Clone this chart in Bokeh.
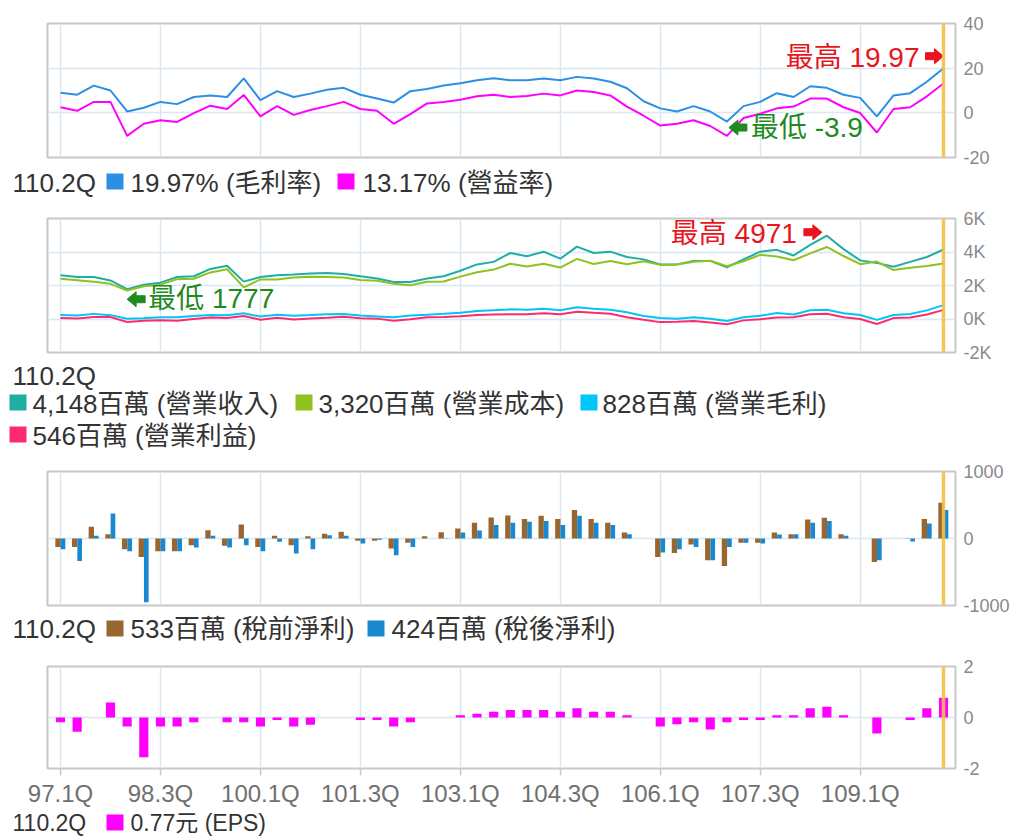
from bokeh.plotting import figure
from bokeh.models import Range1d, FixedTicker, Span
from bokeh.layouts import column
from bokeh.embed import file_html
from bokeh.resources import INLINE
from bokeh.core.properties import value
from bokeh.transform import dodge

# ---------------- data ----------------
quarters = ["97.1Q", "97.2Q", "97.3Q", "97.4Q", "98.1Q", "98.2Q", "98.3Q", "98.4Q",
            "99.1Q", "99.2Q", "99.3Q", "99.4Q", "100.1Q", "100.2Q", "100.3Q", "100.4Q",
            "101.1Q", "101.2Q", "101.3Q", "101.4Q", "102.1Q", "102.2Q", "102.3Q", "102.4Q",
            "103.1Q", "103.2Q", "103.3Q", "103.4Q", "104.1Q", "104.2Q", "104.3Q", "104.4Q",
            "105.1Q", "105.2Q", "105.3Q", "105.4Q", "106.1Q", "106.2Q", "106.3Q", "106.4Q",
            "107.1Q", "107.2Q", "107.3Q", "107.4Q", "108.1Q", "108.2Q", "108.3Q", "108.4Q",
            "109.1Q", "109.2Q", "109.3Q", "109.4Q", "110.1Q", "110.2Q"]

tick_labels = ["97.1Q", "98.3Q", "100.1Q", "101.3Q", "103.1Q", "104.3Q", "106.1Q", "107.3Q", "109.1Q"]

gross_margin = [9.0, 8.1, 12.2, 10.0, 0.6, 2.3, 4.9, 3.9, 7.1, 7.8, 7.1, 15.4, 5.7, 9.7, 7.1, 8.6,
                10.3, 11.2, 8.1, 6.4, 4.6, 9.7, 10.7, 12.2, 13.2, 14.6, 15.5, 14.6, 14.6, 15.4, 14.6, 16.1,
                15.4, 13.9, 11.0, 5.2, 2.0, 0.6, 3.0, 0.6, -3.9, 3.0, 4.9, 8.8, 7.1, 11.9, 11.2, 8.1,
                6.7, -1.6, 7.8, 8.8, 13.9, 19.97]
op_margin = [2.5, 0.9, 4.9, 4.9, -10.3, -4.9, -3.3, -4.1, -0.1, 3.2, 1.7, 8.0, -1.6, 3.0, -0.9, 1.3,
             3.0, 4.9, 1.7, 0.9, -4.9, -0.6, 4.2, 4.9, 5.9, 7.4, 8.1, 7.1, 7.5, 8.6, 7.8, 10.0,
             9.3, 7.8, 2.8, -1.3, -5.7, -4.9, -3.3, -5.9, -10.3, -2.3, -0.4, 2.0, 2.8, 6.4, 6.4, 2.5,
             -0.1, -8.8, 1.7, 2.5, 7.4, 13.17]

revenue = [2610, 2510, 2510, 2300, 1777, 2040, 2170, 2510, 2550, 2990, 3180, 2230, 2510, 2610, 2650, 2720,
           2740, 2690, 2550, 2420, 2210, 2210, 2420, 2550, 2880, 3260, 3410, 3940, 3750, 4020, 3600, 4320,
           3940, 4020, 3700, 3560, 3260, 3260, 3470, 3470, 3090, 3560, 4020, 4130, 3790, 4420, 4971, 4170,
           3500, 3350, 3120, 3410, 3700, 4148]
cost = [2400, 2320, 2220, 2100, 1700, 1950, 2050, 2380, 2400, 2780, 2970, 1890, 2360, 2360, 2480, 2520,
        2510, 2480, 2330, 2280, 2110, 2020, 2220, 2240, 2530, 2790, 2950, 3300, 3140, 3300, 3070, 3590,
        3280, 3460, 3270, 3450, 3230, 3260, 3420, 3480, 3150, 3450, 3830, 3730, 3510, 3920, 4300, 3760,
        3270, 3430, 2920, 3060, 3170, 3320]
gross_profit = [235, 203, 306, 230, 11, 47, 106, 98, 181, 233, 226, 343, 143, 253, 188, 234,
                282, 301, 207, 155, 102, 214, 259, 311, 380, 476, 529, 575, 548, 619, 526, 696,
                607, 559, 407, 185, 65, 20, 104, 21, -121, 107, 197, 363, 269, 526, 557, 338,
                235, -54, 243, 300, 514, 828]
op_income = [65, 23, 123, 113, -183, -100, -72, -103, -3, 96, 54, 178, -40, 78, -24, 35,
             82, 132, 43, 22, -108, -13, 102, 125, 170, 241, 276, 280, 281, 346, 281, 432,
             366, 314, 104, -46, -186, -160, -115, -205, -318, -82, -16, 83, 106, 283, 318, 104,
             -4, -295, 53, 85, 274, 546]

pretax = [-125, -125, 175, 65, -160, -275, -190, -190, -100, 125, -110, 210, -125, 40, -100, 35,
          70, 100, -35, -35, -150, -65, 35, 95, 150, 235, 315, 345, 290, 340, 290, 425,
          290, 235, 90, 0, -275, -215, -90, -325, -410, -65, -65, 90, 65, 285, 310, 65,
          0, -350, 0, -5, 290, 533]
aftertax = [-160, -335, 40, 375, -190, -950, -190, -190, -135, 40, -135, -100, -190, -50, -225, -160,
            50, 40, -75, -20, -250, -125, 0, 5, 90, 120, 200, 235, 250, 260, 200, 340,
            235, 200, 65, 0, -210, -160, -125, -325, -125, -65, -75, 60, 65, 235, 260, 40,
            0, -325, 0, -45, 225, 424]
eps = [-0.19, -0.56, 0.0, 0.59, -0.35, -1.56, -0.35, -0.35, -0.19, 0.0, -0.19, -0.19, -0.35, -0.1, -0.35, -0.28,
       0.0, 0.0, -0.1, -0.1, -0.35, -0.19, 0.0, 0.0, 0.09, 0.15, 0.23, 0.29, 0.29, 0.29, 0.23, 0.36,
       0.23, 0.23, 0.09, 0.0, -0.35, -0.26, -0.19, -0.47, -0.19, -0.1, -0.1, 0.09, 0.09, 0.36, 0.42, 0.09,
       0.0, -0.63, 0.0, -0.1, 0.36, 0.77]

idx = list(range(len(quarters)))
tick_idx = [quarters.index(t) for t in tick_labels]
last = len(quarters) - 1

# ---------------- styling ----------------
FONT = "'Liberation Sans', 'Noto Sans CJK TC', sans-serif"
TXT = "#333333"
GRID = "#dae8f4"
RED = "#e8141e"
GREEN = "#1f8a1f"
GOLD = "#f2c04a"

C_GM, C_OM = "#2b8fe3", "#ff00ff"
C_REV, C_COST, C_GP, C_OP = "#1fada4", "#8dc21f", "#00c6f8", "#ff2a6d"
C_PRE, C_AFT = "#9a6630", "#1a88cf"
C_EPS = "#ff00ff"

W = 1023
BL, BR = 47, 68                 # left / right borders around the plot frame
FRAME_W = W - BL - BR
XR = (-0.78, last + 0.72)
LEG_SIZE = "26px"


def make_fig(height, top, bottom, yr, yticks, ylabels, show_x=False):
    p = figure(width=W, height=height, title=None, output_backend="svg", toolbar_location=None,
               x_range=Range1d(*XR), y_range=Range1d(*yr), y_axis_location="right",
               min_border_left=BL, min_border_right=BR, min_border_top=top, min_border_bottom=bottom,
               frame_align=False)
    p.outline_line_color = "#c8c8c8"
    p.outline_line_width = 2
    p.xgrid.ticker = FixedTicker(ticks=tick_idx)
    p.ygrid.ticker = FixedTicker(ticks=yticks)
    p.xgrid.grid_line_color = GRID
    p.ygrid.grid_line_color = GRID
    p.xgrid.grid_line_width = 1.5
    p.ygrid.grid_line_width = 1.5
    ya = p.yaxis[0]
    ya.ticker = FixedTicker(ticks=yticks)
    ya.major_label_overrides = {t: l for t, l in zip(yticks, ylabels)}
    ya.axis_line_color = None
    ya.major_tick_line_color = None
    ya.major_tick_out = 0
    ya.major_tick_in = 0
    ya.minor_tick_line_color = None
    ya.major_label_text_color = "#8a8a8a"
    ya.major_label_text_font = FONT
    ya.major_label_text_font_size = "18px"
    ya.major_label_standoff = 8
    xa = p.xaxis[0]
    if show_x:
        xa.ticker = FixedTicker(ticks=tick_idx)
        xa.major_label_overrides = {i: l for i, l in zip(tick_idx, tick_labels)}
        xa.axis_line_color = None
        xa.major_tick_line_color = "#c8c8c8"
        xa.major_tick_line_width = 1.5
        xa.major_tick_out = 7
        xa.major_tick_in = 0
        xa.minor_tick_line_color = None
        xa.major_label_text_color = "#707070"
        xa.major_label_text_font = FONT
        xa.major_label_text_font_size = "24px"
        xa.major_label_standoff = 4
    else:
        xa.visible = False
    p.add_layout(Span(location=last, dimension="height", line_color=GOLD, line_width=3.5,
                      line_alpha=0.9, level="overlay"))
    return p


def make_legend(height):
    p = figure(width=W, height=height, title=None, output_backend="svg", toolbar_location=None,
               x_range=Range1d(0, W), y_range=Range1d(height, 0),
               x_axis_location=None, y_axis_location=None, min_border=0, frame_align=False)
    p.outline_line_color = None
    p.grid.visible = False
    return p


def leg_text(p, x, y, text, size=LEG_SIZE):
    p.text(x=[x], y=[y], text=[text], text_color=TXT, text_font=value(FONT), text_font_size=size,
           text_baseline="middle", text_align="left")


def leg_square(p, x_left, y, color):
    p.rect(x=[x_left + 8.5], y=[y], width=17, height=16, fill_color=color, line_color=None)


def arrow(p, x, y, yr, frame_h, tip_dx, tip_dy, color, pointing_right):
    # block arrow, shape given in screen pixels relative to its tip, converted to data units
    sx = (XR[1] - XR[0]) / FRAME_W
    sy = (yr[1] - yr[0]) / frame_h
    shape = [(0, 0), (-9, 7.5), (-9, 3.5), (-18, 3.5), (-18, -3.5), (-9, -3.5), (-9, -7.5)]
    d = 1 if pointing_right else -1
    xs = [x + (tip_dx + d * a) * sx for a, b in shape]
    ys = [y + (tip_dy + b) * sy for a, b in shape]
    p.patch(xs, ys, fill_color=color, line_color=color, line_width=1)


def mark_text(p, x, y, text, color, right, dx, dy):
    p.text(x=[x], y=[y], text=[text], x_offset=dx, y_offset=dy, text_align="right" if right else "left",
           text_baseline="middle", text_color=color, text_font=value(FONT), text_font_size="28px")


# ---------------- panel 1: margins ----------------
YR1 = (-20, 40)
p1 = make_fig(168, 23, 11, YR1, [-20, 0, 20, 40], ["-20", "0", "20", "40"])
p1.line(idx, gross_margin, line_color=C_GM, line_width=2)
p1.line(idx, op_margin, line_color=C_OM, line_width=2)
gm_max_i = gross_margin.index(max(gross_margin))
gm_min_i = gross_margin.index(min(gross_margin))
arrow(p1, gm_max_i, gross_margin[gm_max_i], YR1, 134, 0, 12, RED, True)
mark_text(p1, gm_max_i, gross_margin[gm_max_i], f"最高 {max(gross_margin)}", RED, True, -24, -11)
arrow(p1, gm_min_i, gross_margin[gm_min_i], YR1, 134, 2, -6, GREEN, False)
mark_text(p1, gm_min_i, gross_margin[gm_min_i], f"最低 {min(gross_margin)}", GREEN, False, 24, 6)

l1 = make_legend(37)
leg_text(l1, 12, 14, quarters[last])
leg_square(l1, 106, 13, C_GM)
leg_text(l1, 130, 14, f"{gross_margin[last]}% (毛利率)")
leg_square(l1, 337, 13, C_OM)
leg_text(l1, 362, 14, f"{op_margin[last]}% (營益率)")

# ---------------- panel 2: revenue etc ----------------
YR2 = (-2000, 6000)
p2 = make_fig(157, 13, 10, YR2, [-2000, 0, 2000, 4000, 6000], ["-2K", "0K", "2K", "4K", "6K"])
p2.line(idx, revenue, line_color=C_REV, line_width=2)
p2.line(idx, cost, line_color=C_COST, line_width=2)
p2.line(idx, gross_profit, line_color=C_GP, line_width=2)
p2.line(idx, op_income, line_color=C_OP, line_width=2)
rv_max_i = revenue.index(max(revenue))
rv_min_i = revenue.index(min(revenue))
arrow(p2, rv_max_i, revenue[rv_max_i], YR2, 134, -5, 3.5, RED, True)
mark_text(p2, rv_max_i, revenue[rv_max_i], f"最高 {max(revenue)}", RED, True, -30, -2)
arrow(p2, rv_min_i, revenue[rv_min_i], YR2, 134, 0, -10, GREEN, False)
mark_text(p2, rv_min_i, revenue[rv_min_i], f"最低 {min(revenue)}", GREEN, False, 21, 9)

l2 = make_legend(98)
leg_text(l2, 12, 13, quarters[last])
leg_square(l2, 9, 40, C_REV)
leg_text(l2, 32, 41, f"{revenue[last]:,}百萬 (營業收入)")
leg_square(l2, 295, 40, C_COST)
leg_text(l2, 318, 41, f"{cost[last]:,}百萬 (營業成本)")
leg_square(l2, 580, 40, C_GP)
leg_text(l2, 602, 41, f"{gross_profit[last]:,}百萬 (營業毛利)")
leg_square(l2, 9, 72, C_OP)
leg_text(l2, 32, 73, f"{op_income[last]:,}百萬 (營業利益)")

# ---------------- panel 3: net income bars ----------------
p3 = make_fig(155, 11, 10, (-1000, 1000), [-1000, 0, 1000], ["-1000", "0", "1000"])
src3 = {"i": idx, "pre": pretax, "aft": aftertax}
p3.vbar(x=dodge("i", -0.15, range=p3.x_range), top="pre", bottom=0, width=0.32, source=src3,
        fill_color=C_PRE, line_color=None)
p3.vbar(x=dodge("i", 0.15, range=p3.x_range), top="aft", bottom=0, width=0.28, source=src3,
        fill_color=C_AFT, line_color=None)

l3 = make_legend(35)
leg_text(l3, 12, 13, quarters[last])
leg_square(l3, 106, 13, C_PRE)
leg_text(l3, 130, 13, f"{pretax[last]}百萬 (稅前淨利)")
leg_square(l3, 367, 13, C_AFT)
leg_text(l3, 391, 13, f"{aftertax[last]}百萬 (稅後淨利)")

# ---------------- panel 4: EPS ----------------
p4 = make_fig(159, 16, 38, (-2, 2), [-2, 0, 2], ["-2", "0", "2"], show_x=True)
p4.vbar(x=idx, top=eps, bottom=0, width=0.55, fill_color=C_EPS, line_color=None)

l4 = make_legend(27)
leg_text(l4, 12, 13.5, quarters[last], size="23px")
leg_square(l4, 106, 13, C_EPS)
leg_text(l4, 130, 13.5, f"{eps[last]}元 (EPS)", size="23px")

layout = column(p1, l1, p2, l2, p3, l3, p4, l4, spacing=0)
open("out.html", "w").write(file_html(layout, INLINE))
